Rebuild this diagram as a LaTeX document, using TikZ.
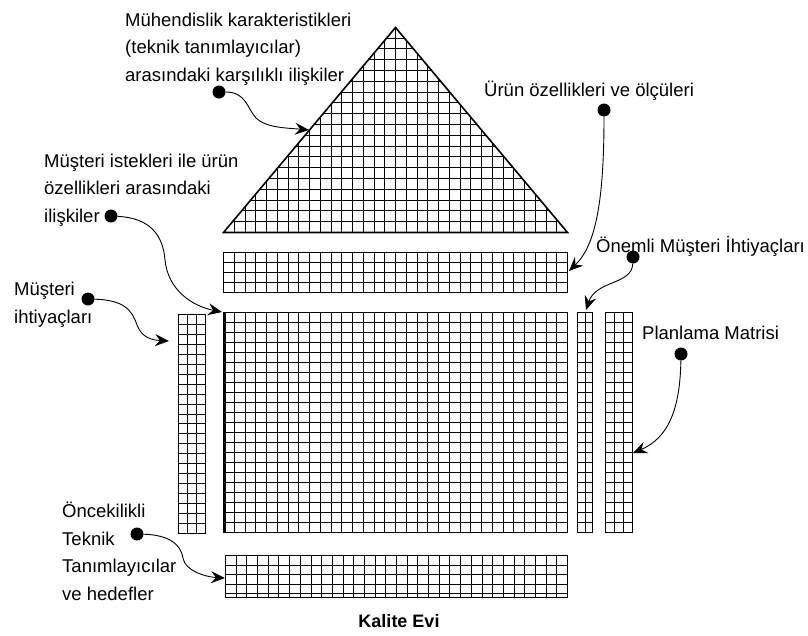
\documentclass[tikz,border=0pt]{standalone}
\usepackage{fontspec}
\setmainfont{Liberation Sans}
\usetikzlibrary{arrows.meta}
\newcommand\gridrect[6]{%
  \pgfmathsetmacro\gdx{(#3-#1)/#5}%
  \pgfmathsetmacro\gdy{(#4-#2)/#6}%
  \pgfmathtruncatemacro\gnc{#5-1}%
  \pgfmathtruncatemacro\gnr{#6-1}%
  \foreach \k in {1,...,\gnc}{\draw[gridline] ({round(#1+\k*\gdx)+0.5},#2+0.5) -- ({round(#1+\k*\gdx)+0.5},#4+0.5);}%
  \foreach \k in {1,...,\gnr}{\draw[gridline] (#1+0.5,{round(#2+\k*\gdy)+0.5}) -- (#3+0.5,{round(#2+\k*\gdy)+0.5});}%
  \draw[gridframe] (#1+0.5,#2+0.5) rectangle (#3+0.5,#4+0.5);}
\begin{document}
\begin{tikzpicture}[x=1pt,y=-1pt,
  gridline/.style={line width=1.25pt,black},
  gridframe/.style={line width=1.6pt,black},
  lbl/.style={font=\fontsize{18.5}{27.5}\selectfont,align=left,inner sep=0pt,anchor=base west},
  dot/.style={circle,fill=black,inner sep=0pt,minimum size=13pt},
  conn/.style={line width=0.9pt,-{Stealth[length=14pt,width=12pt,inset=5pt]}}]
\useasboundingbox (0,0) rectangle (808,635);
% roof (triangle)
\begin{scope}
  \clip (395.5,27.5) -- (567.5,232.5) -- (223.5,232.5) -- cycle;
  \foreach \k in {1,...,31}{\draw[gridline] ({round(223+\k*10.75)+0.5},20) -- ({round(223+\k*10.75)+0.5},233);}
  \foreach \k in {1,...,19}{\draw[gridline] (220,{round(232-\k*10.8)+0.5}) -- (570,{round(232-\k*10.8)+0.5});}
\end{scope}
\draw[gridframe,line join=miter] (395.5,27.5) -- (567.5,232.5) -- (223.5,232.5) -- cycle;
% top strip
\gridrect{223}{252}{567}{292}{32}{4}
% main matrix
\gridrect{223}{312}{567}{532}{32}{22}
\draw[line width=3pt] (224.5,312.5) -- (224.5,532.5);
% left column
\gridrect{178}{314}{205}{533}{3}{22}
% important needs column
\gridrect{577}{312}{592}{532}{2}{22}
% planning matrix
\gridrect{605}{312}{632}{532}{3}{22}
% bottom strip
\gridrect{225}{555}{567}{593}{32}{4}
\draw[gridframe] (225.5,593.5) rectangle (567.5,597.5);
\foreach \k in {1,...,31}{\draw[gridline] ({round(225+\k*10.6875)+0.5},593.5) -- ({round(225+\k*10.6875)+0.5},597.5);}
% labels (anchor = baseline of the last line)
\node[lbl] (l1) at (125,81) {Mühendislik karakteristikleri\\(teknik tanımlayıcılar)\\arasındaki karşılıklı ilişkiler};
\node[lbl] (l2) at (484,96) {Ürün özellikleri ve ölçüleri};
\node[lbl] (l3) at (44,222) {Müşteri istekleri ile ürün\\özellikleri arasındaki\\ilişkiler};
\node[lbl] (l4) at (596,252) {Önemli Müşteri İhtiyaçları};
\node[lbl] (l5) at (14,323) {Müşteri\\ihtiyaçları};
\node[lbl] (l6) at (642,339) {Planlama Matrisi};
\node[lbl] (l7) at (62,600) {Öncekilikli\\Teknik\\Tanımlayıcılar\\ve hedefler};
\node[font=\bfseries\fontsize{18}{22}\selectfont,inner sep=0pt,anchor=base] (title) at (399,627) {Kalite Evi};
% dots
\node[dot] (d1) at (219,92) {};
\node[dot] (d2) at (604,110) {};
\node[dot] (d3) at (111,216) {};
\node[dot] (d4) at (633,257) {};
\node[dot] (d5) at (88,299) {};
\node[dot] (d6) at (681,354) {};
\node[dot] (d7) at (137,534) {};
% arrow targets
\coordinate (t1) at (309,130);
\coordinate (t2) at (569,271);
\coordinate (t3) at (222,312);
\coordinate (t4) at (586,310);
\coordinate (t5) at (169,341);
\coordinate (t6) at (633,453);
\coordinate (t7) at (225,578);
% connectors
\draw[conn] (d1) .. controls (246,92) and (247,108) .. (256,118) .. controls (266,128) and (288,128) .. (t1);
\draw[conn] (d2) .. controls (604,200) and (596,245) .. (t2);
\draw[conn] (d3) .. controls (150,218) and (163,235) .. (165,260) .. controls (168,290) and (192,306) .. (t3);
\draw[conn] (d4) .. controls (632,285) and (596,280) .. (t4);
\draw[conn] (d5) .. controls (124,300) and (132,310) .. (137,325) .. controls (142,338) and (152,340) .. (t5);
\draw[conn] (d6) .. controls (680,410) and (668,438) .. (t6);
\draw[conn] (d7) .. controls (170,535) and (181,545) .. (183,558) .. controls (185,571) and (206,577) .. (t7);
\end{tikzpicture}
\end{document}
